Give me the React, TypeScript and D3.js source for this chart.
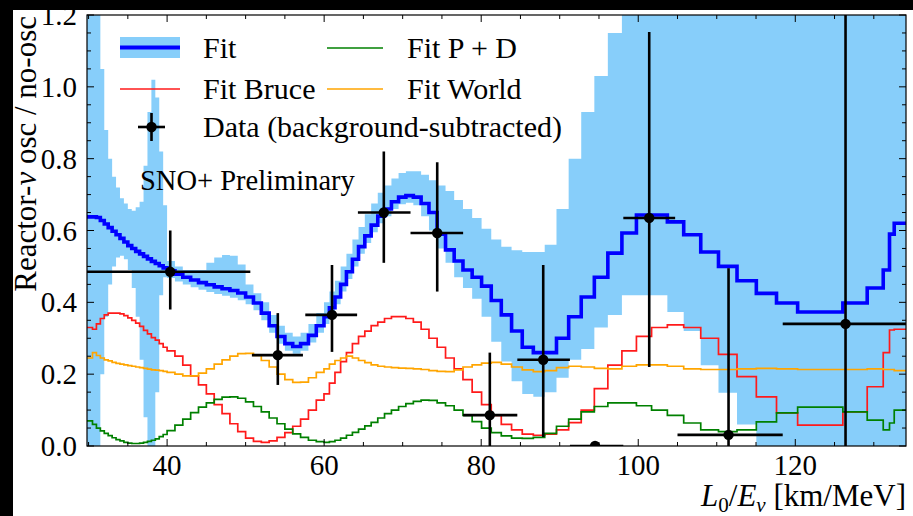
import React from "react";
import * as d3 from "d3";

const W = 913;
const H = 516;
const PL = 87, PR = 906, PT = 15, PB = 446;

// histogram bin edges (L0/E, km/MeV)
const binEdges = [
  29.8, 30.5, 31, 31.5, 32, 32.5, 33, 33.5, 34, 34.5, 35, 35.5, 36, 36.5, 37, 37.5, 38, 38.5, 39, 39.5,
  40, 41, 42, 43, 44, 45, 46, 47, 48, 49, 50, 51, 52, 53, 54, 55, 56, 57, 58, 59,
  59.98, 60.67, 61.38, 62.1, 62.84, 63.6, 64.38, 65.18, 65.99, 66.83, 67.69, 68.57, 69.48, 70.41, 71.36,
  72.35, 73.35, 74.39, 75.46, 76.56, 77.68, 78.85, 80.05, 81.28, 82.56, 83.87, 85.23, 86.64, 88.09, 89.59,
  91.14, 92.74, 94.41, 96.13, 97.92, 99.77, 101.7, 103.71, 105.79, 107.96, 110.22, 112.58, 115.04, 117.61,
  120.3, 123.11, 126.06, 129.16, 131.2, 132.0, 132.6, 134.1,
];

const fitValues = [
  0.638, 0.638, 0.636, 0.628, 0.618, 0.608, 0.598, 0.588, 0.578, 0.568, 0.558, 0.55, 0.542, 0.535, 0.528, 0.521, 0.514, 0.508, 0.502, 0.496,
  0.488, 0.478, 0.47, 0.462, 0.455, 0.449, 0.443, 0.438, 0.433, 0.426, 0.415, 0.398, 0.37, 0.335, 0.305, 0.285, 0.277, 0.285, 0.308, 0.335,
  0.36, 0.385, 0.415, 0.45, 0.485, 0.52, 0.555, 0.585, 0.615, 0.64, 0.66, 0.68, 0.693, 0.697, 0.693, 0.675, 0.65,
  0.59, 0.546, 0.515, 0.49, 0.47, 0.445, 0.405, 0.365, 0.32, 0.275, 0.26, 0.26, 0.3, 0.36, 0.415, 0.47, 0.537, 0.593,
  0.643, 0.643, 0.624, 0.588, 0.54, 0.5, 0.46, 0.425, 0.398, 0.373, 0.373, 0.398, 0.44, 0.49, 0.59, 0.62,
];

const bandLow = [
  0, 0, 0, 0.2, 0.36, 0.45, 0.5, 0.525, 0.53, 0.52, 0.49, 0.44, 0.36, 0.24, 0.08, 0, 0, 0.15, 0.42, 0.47,
  0.468, 0.458, 0.45, 0.442, 0.435, 0.429, 0.423, 0.418, 0.413, 0.406, 0.395, 0.378, 0.35, 0.315, 0.285, 0.265, 0.257, 0.265, 0.288, 0.315,
  0.34, 0.365, 0.395, 0.43, 0.465, 0.5, 0.535, 0.565, 0.595, 0.62, 0.64, 0.66, 0.673, 0.677, 0.67, 0.64, 0.6,
  0.55, 0.51, 0.47, 0.44, 0.41, 0.36, 0.29, 0.235, 0.18, 0.145, 0.137, 0.15, 0.19, 0.24, 0.27, 0.33, 0.365, 0.42,
  0.42, 0.42, 0.373, 0.32, 0.225, 0.148, 0.06, 0, 0, 0, 0, 0, 0, 0, 0, 0,
];

const bandHigh = [
  1.3, 1.3, 1.3, 1.05, 0.88, 0.8, 0.75, 0.72, 0.69, 0.675, 0.66, 0.655, 0.665, 0.68, 0.78, 0.93, 1.02, 0.97, 0.82, 0.67,
  0.515, 0.5, 0.49, 0.49, 0.49, 0.51, 0.525, 0.532, 0.53, 0.505, 0.45, 0.425, 0.4, 0.365, 0.335, 0.315, 0.305, 0.315, 0.34, 0.37,
  0.4, 0.43, 0.46, 0.5, 0.535, 0.575, 0.61, 0.645, 0.675, 0.705, 0.725, 0.745, 0.76, 0.765, 0.765, 0.755, 0.74,
  0.725, 0.71, 0.685, 0.66, 0.635, 0.605, 0.575, 0.555, 0.545, 0.54, 0.54, 0.56, 0.66, 0.8, 0.93, 1.03, 1.15, 1.3,
  1.3, 1.3, 1.3, 1.3, 1.3, 1.3, 1.3, 1.3, 1.3, 1.3, 1.3, 1.3, 1.3, 1.3, 1.3, 1.3,
];

const bruceValues = [
  0.33, 0.325, 0.34, 0.355, 0.365, 0.37, 0.37, 0.37, 0.368, 0.363, 0.357, 0.35, 0.342, 0.333, 0.322, 0.312, 0.302, 0.295, 0.285, 0.275,
  0.265, 0.25, 0.225, 0.195, 0.17, 0.145, 0.115, 0.09, 0.062, 0.04, 0.022, 0.013, 0.01, 0.014, 0.024, 0.037, 0.055, 0.075, 0.1, 0.128,
  0.145, 0.175, 0.205, 0.235, 0.26, 0.285, 0.305, 0.32, 0.335, 0.345, 0.355, 0.36, 0.36, 0.355, 0.345, 0.325, 0.3,
  0.275, 0.245, 0.215, 0.185, 0.15, 0.115, 0.085, 0.06, 0.045, 0.033, 0.03, 0.033, 0.045, 0.065, 0.1, 0.16, 0.225, 0.265,
  0.305, 0.33, 0.337, 0.33, 0.3, 0.255, 0.193, 0.137, 0.092, 0.058, 0.058, 0.095, 0.165, 0.26, 0.323, 0.325,
];

const pdValues = [
  0.07, 0.06, 0.05, 0.042, 0.035, 0.029, 0.023, 0.018, 0.014, 0.01, 0.008, 0.007, 0.007, 0.008, 0.01, 0.013, 0.016, 0.02, 0.026, 0.032,
  0.043, 0.058, 0.075, 0.093, 0.108, 0.12, 0.13, 0.136, 0.137, 0.133, 0.123, 0.11, 0.095, 0.078, 0.062, 0.047, 0.034, 0.024, 0.016, 0.012,
  0.01, 0.012, 0.016, 0.022, 0.03, 0.038, 0.047, 0.056, 0.066, 0.078, 0.09, 0.1, 0.11, 0.118, 0.124, 0.128, 0.127,
  0.12, 0.112, 0.1, 0.085, 0.068, 0.05, 0.037, 0.028, 0.022, 0.021, 0.024, 0.035, 0.055, 0.075, 0.095, 0.11, 0.12, 0.12,
  0.112, 0.1, 0.085, 0.064, 0.045, 0.04, 0.045, 0.067, 0.092, 0.108, 0.108, 0.095, 0.072, 0.045, 0.064, 0.1,
];

const worldValues = [
  0.245, 0.26, 0.252, 0.245, 0.24, 0.237, 0.233, 0.23, 0.228, 0.226, 0.224, 0.222, 0.22, 0.218, 0.216, 0.214, 0.212, 0.211, 0.21, 0.208,
  0.205, 0.2, 0.195, 0.195, 0.203, 0.215, 0.228, 0.24, 0.25, 0.257, 0.258, 0.252, 0.238, 0.22, 0.2, 0.185, 0.177, 0.178, 0.19, 0.205,
  0.215, 0.228, 0.238, 0.245, 0.25, 0.245, 0.238, 0.232, 0.226, 0.222, 0.22, 0.218, 0.217, 0.216, 0.215, 0.213, 0.21,
  0.208, 0.207, 0.212, 0.22, 0.226, 0.231, 0.233, 0.228, 0.22, 0.212, 0.207, 0.21, 0.218, 0.222, 0.22, 0.216, 0.215, 0.222,
  0.226, 0.226, 0.222, 0.215, 0.213, 0.213, 0.215, 0.216, 0.215, 0.213, 0.213, 0.213, 0.215, 0.213, 0.213, 0.21,
];

// data points (background-subtracted)
const dataX = [40.4, 54.1, 61.0, 67.6, 74.4, 81.1, 87.9, 94.5, 101.4, 111.5, 126.4];
const dataY = [0.485, 0.253, 0.365, 0.65, 0.593, 0.086, 0.24, 0.0, 0.635, 0.031, 0.34];
const dataXLow = [29.8, 50.8, 57.6, 64.3, 71.0, 77.7, 84.6, 91.3, 98.1, 105.0, 118.4];
const dataXHigh = [50.6, 57.3, 64.2, 71.0, 77.7, 84.6, 91.3, 98.1, 104.7, 118.4, 134.1];
const dataYLow = [0.38, 0.17, 0.262, 0.51, 0.43, 0.0, 0.025, 0.0, 0.22, 0.0, 0.0];
const dataYHigh = [0.6, 0.37, 0.504, 0.82, 0.79, 0.26, 0.504, 0.0, 1.153, 0.495, 1.3];

const xMajor = [40, 60, 80, 100, 120];
const xMinor = [30, 35, 45, 50, 55, 65, 70, 75, 85, 90, 95, 105, 110, 115, 125, 130];
const yMajor = [0.0, 0.2, 0.4, 0.6, 0.8, 1.0, 1.2];
const yMinor = [0.05, 0.1, 0.15, 0.25, 0.3, 0.35, 0.45, 0.5, 0.55, 0.65, 0.7, 0.75, 0.85, 0.9, 0.95, 1.05, 1.1, 1.15];

const FONT = "'Liberation Serif', 'Times New Roman', serif";
const BAND = "#87cefa";

export default function App() {
  const x = d3.scaleLinear().domain([29.8, 134.1]).range([PL, PR]);
  const y = d3.scaleLinear().domain([0, 1.2]).range([PB, PT]);
  const n = binEdges.length - 1;

  const stepPts = (vals: number[]) => {
    const pts: [number, number][] = vals.map((v, i) => [binEdges[i], v]);
    pts.push([binEdges[n], vals[n - 1]]);
    return pts;
  };
  const line = d3
    .line<[number, number]>()
    .x((d) => x(d[0]))
    .y((d) => y(d[1]))
    .curve(d3.curveStepAfter);

  const bandPts = bandLow.map((lo, i) => ({ e: binEdges[i], lo, hi: bandHigh[i] }));
  bandPts.push({ e: binEdges[n], lo: bandLow[n - 1], hi: bandHigh[n - 1] });
  const area = d3
    .area<{ e: number; lo: number; hi: number }>()
    .x((d) => x(d.e))
    .y0((d) => y(d.lo))
    .y1((d) => y(d.hi))
    .curve(d3.curveStepAfter);

  const MAJ = 7, MIN = 4;

  return (
    <svg
      width={W}
      height={H}
      style={{ position: "absolute", left: 0, top: 0, background: "#fff" }}
      fontFamily={FONT}
    >
      <rect x={0} y={0} width={W} height={H} fill="#fff" />
      <defs>
        <clipPath id="plotclip">
          <rect x={PL} y={PT} width={PR - PL} height={PB - PT} />
        </clipPath>
      </defs>
      <g clipPath="url(#plotclip)">
        <path d={area(bandPts) || ""} fill={BAND} stroke="none" />
        <path d={line(stepPts(fitValues)) || ""} fill="none" stroke="#0000ff" strokeWidth={3.6} />
        <path d={line(stepPts(bruceValues)) || ""} fill="none" stroke="#ff1a1a" strokeWidth={1.7} />
        <path d={line(stepPts(pdValues)) || ""} fill="none" stroke="#008000" strokeWidth={1.7} />
        <path d={line(stepPts(worldValues)) || ""} fill="none" stroke="#ffa500" strokeWidth={1.7} />
        {dataX.map((dx, i) => (
          <g key={i}>
            <line x1={x(dataXLow[i])} x2={x(dataXHigh[i])} y1={y(dataY[i])} y2={y(dataY[i])} stroke="#000" strokeWidth={2.6} />
            {dataYHigh[i] > dataYLow[i] && (
              <line x1={x(dx)} x2={x(dx)} y1={y(dataYLow[i])} y2={y(dataYHigh[i])} stroke="#000" strokeWidth={2.6} />
            )}
            <circle cx={x(dx)} cy={y(dataY[i])} r={5.2} fill="#000" />
          </g>
        ))}
      </g>

      {/* ticks */}
      <g stroke="#000" strokeWidth={1}>
        {xMajor.map((t) => (
          <g key={"xM" + t}>
            <line x1={x(t)} x2={x(t)} y1={PB} y2={PB - MAJ} />
            <line x1={x(t)} x2={x(t)} y1={PT} y2={PT + MAJ} />
          </g>
        ))}
        {xMinor.map((t) => (
          <g key={"xm" + t}>
            <line x1={x(t)} x2={x(t)} y1={PB} y2={PB - MIN} />
            <line x1={x(t)} x2={x(t)} y1={PT} y2={PT + MIN} />
          </g>
        ))}
        {yMajor.map((t) => (
          <g key={"yM" + t}>
            <line x1={PL} x2={PL + MAJ} y1={y(t)} y2={y(t)} />
            <line x1={PR} x2={PR - MAJ} y1={y(t)} y2={y(t)} />
          </g>
        ))}
        {yMinor.map((t) => (
          <g key={"ym" + t}>
            <line x1={PL} x2={PL + MIN} y1={y(t)} y2={y(t)} />
            <line x1={PR} x2={PR - MIN} y1={y(t)} y2={y(t)} />
          </g>
        ))}
      </g>
      <rect x={PL} y={PT} width={PR - PL} height={PB - PT} fill="none" stroke="#000" strokeWidth={1.2} />

      {/* tick labels */}
      <g fontSize={29} fill="#000">
        {xMajor.map((t) => (
          <text key={"xl" + t} x={x(t)} y={475} textAnchor="middle">
            {t}
          </text>
        ))}
        {yMajor.map((t) => (
          <text key={"yl" + t} x={77} y={y(t) + 10} textAnchor="end">
            {t.toFixed(1)}
          </text>
        ))}
      </g>

      {/* axis labels */}
      <text x={906} y={506} textAnchor="end" fontSize={31} fill="#000">
        <tspan fontStyle="italic">L</tspan>
        <tspan fontSize={21} dy={6}>0</tspan>
        <tspan dy={-6}>/</tspan>
        <tspan fontStyle="italic">E</tspan>
        <tspan fontSize={21} fontStyle="italic" dy={6}>ν</tspan>
        <tspan dy={-6}> [km/MeV]</tspan>
      </text>
      <text
        transform="translate(36,16) rotate(-90)"
        x={0}
        y={0}
        textAnchor="end"
        fontSize={31}
        fill="#000"
      >
        Reactor-<tspan fontStyle="italic">ν</tspan> osc / no-osc
      </text>

      {/* legend */}
      <g fontSize={30} fill="#000">
        <rect x={120} y={37} width={60} height={21} fill={BAND} />
        <line x1={120} x2={180} y1={47.5} y2={47.5} stroke="#0000ff" strokeWidth={4} />
        <text x={203} y={58}>Fit</text>
        <line x1={120} x2={180} y1={89} y2={89} stroke="#ff1a1a" strokeWidth={1.7} />
        <text x={203} y={99}>Fit Bruce</text>
        <line x1={138} x2={165} y1={127} y2={127} stroke="#000" strokeWidth={2.6} />
        <line x1={151.5} x2={151.5} y1={113} y2={141} stroke="#000" strokeWidth={2.6} />
        <circle cx={151.5} cy={127} r={5.2} fill="#000" />
        <text x={203} y={137}>Data (background-subtracted)</text>
        <line x1={327} x2={383} y1={48} y2={48} stroke="#008000" strokeWidth={1.7} />
        <text x={407} y={58}>Fit P + D</text>
        <line x1={327} x2={383} y1={89} y2={89} stroke="#ffa500" strokeWidth={1.7} />
        <text x={407} y={99}>Fit World</text>
      </g>
      <text x={140} y={190} fontSize={28.5} fill="#000">
        SNO+ Preliminary
      </text>

      {/* dark frame strips of the photographed image */}
      <rect x={0} y={0} width={W} height={10} fill="#000" />
      <rect x={0} y={0} width={13} height={H} fill="#000" />
    </svg>
  );
}
